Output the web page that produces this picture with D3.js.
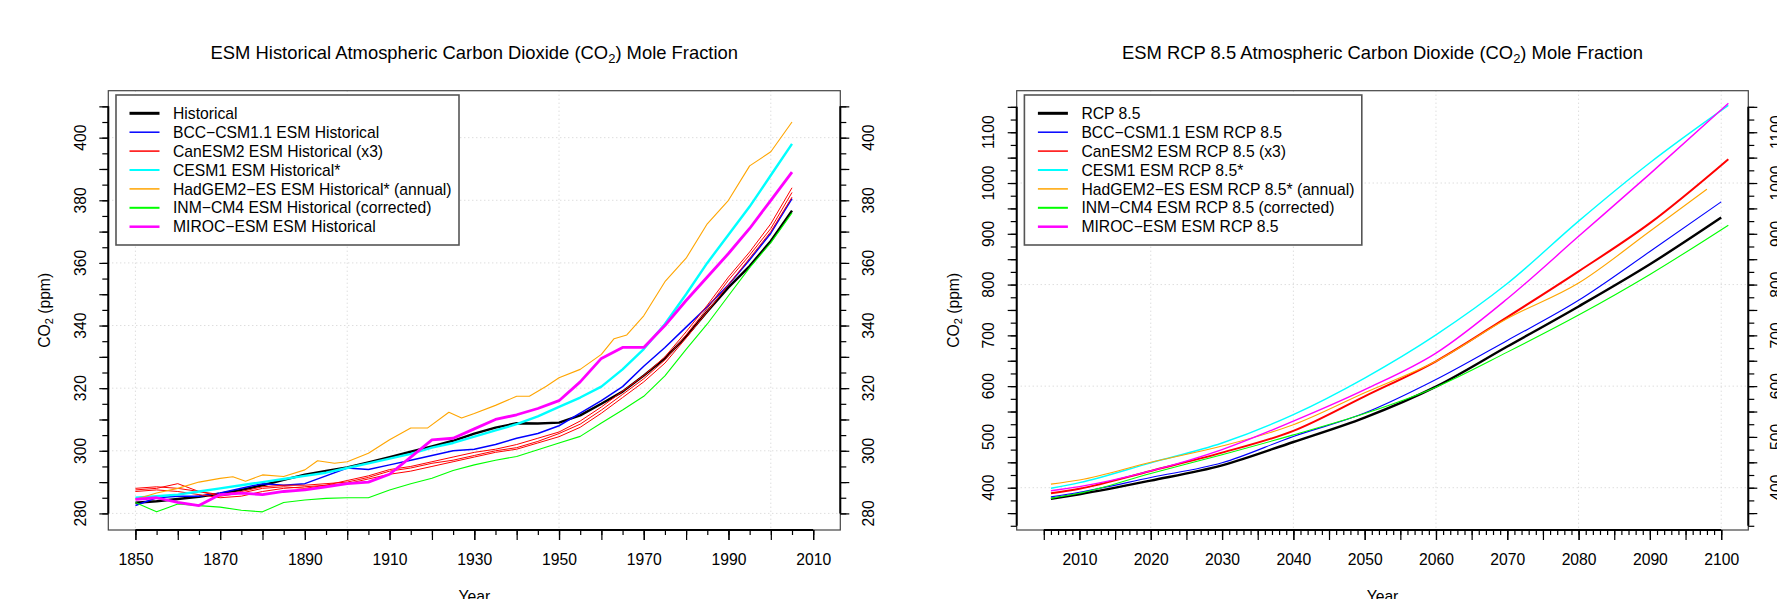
<!DOCTYPE html>
<html lang="en">
<head>
<meta charset="UTF-8">
<title>ESM CO2 Mole Fraction</title>
<script src="https://cdn.jsdelivr.net/npm/d3@7"></script>
<style>
    html, body {
        margin: 0;
        background: white;
    }
    svg {
        display: block;
        font-family: "Liberation Sans", Arial, sans-serif;
    }
</style>
</head>
<body>
<div id="vis"></div>
<script>

// ---------- historical panel (ppm) ----------
var histYears = [1850, 1855, 1860, 1865, 1870, 1875, 1880, 1885, 1890, 1895, 1900, 1905, 1910, 1915, 1920, 1925,
                 1930, 1935, 1940, 1945, 1950, 1955, 1960, 1965, 1970, 1975, 1980, 1985, 1990, 1995, 2000, 2005];
var histObs    = [283.4, 283.9, 284.6, 285.3, 286.3, 287.5, 289.0, 290.7, 292.4, 293.6, 294.7, 296.3, 298.0, 299.7, 301.4, 303.2,
                  305.5, 307.4, 308.8, 308.7, 309.0, 311.3, 315.0, 318.9, 324.0, 329.5, 336.5, 344.5, 352.2, 359.0, 367.0, 376.7];
var histBCC    = [282.5, 285.0, 285.5, 285.5, 286.5, 288.0, 289.5, 289.0, 289.5, 292.0, 294.5, 294.0, 295.5, 297.0, 298.5, 300.0,
                  300.5, 302.0, 304.0, 305.5, 308.0, 312.0, 316.0, 320.5, 327.0, 333.0, 339.5, 346.0, 353.0, 361.0, 369.5, 380.5];
var histCanA   = [288.0, 288.5, 288.0, 287.0, 286.0, 287.0, 288.5, 289.0, 289.0, 289.5, 290.0, 291.5, 293.5, 294.5, 296.0, 297.0,
                  298.5, 300.0, 301.0, 303.0, 305.5, 308.5, 313.0, 318.0, 323.0, 329.0, 337.0, 345.5, 354.5, 362.5, 371.0, 382.5];
var histCanB   = [287.5, 288.0, 289.5, 287.0, 285.5, 286.5, 288.0, 288.5, 288.0, 289.0, 290.5, 292.0, 294.0, 295.0, 296.5, 298.0,
                  299.5, 300.5, 302.0, 304.0, 306.0, 309.5, 314.0, 319.0, 324.0, 330.0, 338.0, 346.5, 355.5, 363.5, 372.5, 384.0];
var histCanC   = [287.0, 287.5, 287.0, 286.0, 285.0, 285.5, 287.0, 288.0, 288.5, 289.0, 289.5, 291.0, 292.5, 293.5, 295.0, 296.5,
                  298.0, 299.5, 300.5, 302.5, 304.5, 307.5, 312.0, 317.0, 322.0, 328.0, 336.0, 344.5, 353.0, 361.5, 370.0, 381.0];
var histCESM   = [285.0, 285.5, 286.0, 287.0, 288.0, 289.0, 290.0, 291.0, 292.0, 293.0, 294.5, 296.0, 297.5, 299.0, 301.0, 302.5,
                  304.5, 306.5, 308.5, 311.0, 314.0, 317.0, 320.5, 326.0, 332.5, 340.5, 350.0, 360.0, 369.0, 378.0, 388.0, 398.0];
var histINM    = [283.5, 280.5, 283.0, 282.5, 282.0, 281.0, 280.5, 283.5, 284.3, 284.8, 285.0, 285.0, 287.5, 289.5, 291.2, 293.7,
                  295.5, 297.0, 298.2, 300.3, 302.5, 304.6, 308.9, 313.0, 317.4, 323.9, 332.4, 340.5, 349.5, 358.5, 366.5, 376.0];
var histMIROC  = [284.5, 285.0, 283.5, 282.5, 286.0, 286.5, 286.0, 287.0, 287.5, 288.5, 289.5, 290.0, 292.5, 298.0, 303.5, 304.0,
                  307.0, 310.0, 311.5, 313.5, 316.0, 322.0, 329.5, 333.0, 333.0, 340.0, 348.0, 355.5, 363.0, 371.0, 380.0, 389.0];
// HadGEM2-ES is annual and bumpy, so it keeps its own years
var hadHistYears = [1850, 1855, 1860, 1865, 1870, 1873, 1876, 1880, 1885, 1890, 1893, 1897, 1900, 1905, 1910, 1915, 1919,
                    1924, 1927, 1930, 1935, 1940, 1943, 1947, 1950, 1955, 1960, 1963, 1966, 1970, 1975, 1980, 1985,
                    1990, 1995, 2000, 2005];
var hadHist      = [284.5, 286.5, 288.0, 290.0, 291.2, 291.7, 290.3, 292.3, 291.8, 293.9, 296.8, 296.0, 296.5, 299.2, 303.5, 307.3, 307.3,
                    312.3, 310.5, 311.9, 314.5, 317.4, 317.4, 320.6, 323.3, 326.0, 330.8, 335.8, 337.0, 343.1, 354.0, 361.5, 372.5,
                    380.0, 391.0, 395.5, 405.0];

// ---------- RCP 8.5 panel ----------
var rcpYears     = [2006, 2010, 2020, 2030, 2040, 2050, 2060, 2070, 2080, 2090, 2100];
var rcpYearsLong = [2006, 2010, 2020, 2030, 2040, 2050, 2060, 2070, 2080, 2090, 2101];
var hadRcpYears  = [2006, 2010, 2020, 2030, 2040, 2050, 2060, 2070, 2080, 2090, 2098];
var rcpObs   = [378, 387, 414, 444, 490, 538, 599, 678, 757, 840, 932];
var rcpBCC   = [382, 391, 420, 449, 501, 547, 613, 690, 769, 865, 963];
var rcpCan   = [389, 398, 433, 469, 512, 580, 649, 736, 826, 921, 1047];
var rcpCESM  = [399, 410, 449, 488, 544, 616, 701, 802, 925, 1040, 1153];
var rcpHad   = [407, 415, 450, 482, 524, 587, 649, 733, 803, 905, 988];
var rcpINM   = [379, 389, 428, 465, 504, 546, 598, 667, 740, 820, 917];
var rcpMIROC = [394, 402, 433, 475, 531, 593, 665, 772, 895, 1018, 1157];

var histLegend = ["Historical", "BCC\u2212CSM1.1 ESM Historical", "CanESM2 ESM Historical (x3)", "CESM1 ESM Historical*",
                  "HadGEM2\u2212ES ESM Historical* (annual)", "INM\u2212CM4 ESM Historical (corrected)", "MIROC\u2212ESM ESM Historical"];
var rcpLegend  = ["RCP 8.5", "BCC\u2212CSM1.1 ESM RCP 8.5", "CanESM2 ESM RCP 8.5 (x3)", "CESM1 ESM RCP 8.5*",
                  "HadGEM2\u2212ES ESM RCP 8.5* (annual)", "INM\u2212CM4 ESM RCP 8.5 (corrected)", "MIROC\u2212ESM ESM RCP 8.5"];

var colours      = ["black", "#0000ff", "#ff0000", "#00ffff", "#ffa500", "#00ff00", "#ff00ff"];
var legendWidths = [3, 1.5, 1.5, 2, 1.5, 2, 2.5];

var width = 1777, height = 599;
var fontSize = 15.7;

var svg = d3.select('#vis')
    .append('svg')
        .attr('width', width)
        .attr('height', height);

function zip(years, values) {
    return years.map(function(y, i) { return {year: y, value: values[i]}; });
}

function drawPanel(p) {
    var g = svg.append('g');

    var x = d3.scaleLinear().domain(p.xDomain).range([p.left, p.right]);
    var y = d3.scaleLinear().domain(p.yDomain).range([p.bottom, p.top]);

    // grid
    g.selectAll('.vgrid').data(p.xGrid).enter().append('line')
        .attr('x1', function(d){ return x(d); }).attr('x2', function(d){ return x(d); })
        .attr('y1', p.top).attr('y2', p.bottom)
        .attr('stroke', '#cfcfcf').attr('stroke-dasharray', '1,3');
    g.selectAll('.hgrid').data(p.yGrid).enter().append('line')
        .attr('y1', function(d){ return y(d); }).attr('y2', function(d){ return y(d); })
        .attr('x1', p.left).attr('x2', p.right)
        .attr('stroke', '#cfcfcf').attr('stroke-dasharray', '1,3');

    // series
    var line = d3.line()
        .x(function(d){ return x(d.year); })
        .y(function(d){ return y(d.value); })
        .curve(p.curve);

    p.series.forEach(function(s) {
        g.append('path')
            .datum(zip(s.years, s.values))
            .attr('fill', 'none')
            .attr('stroke', s.colour)
            .attr('stroke-width', s.width)
            .attr('stroke-linejoin', 'round')
            .attr('d', line);
    });

    // box
    g.append('rect')
        .attr('x', p.left).attr('y', p.top)
        .attr('width', p.right - p.left).attr('height', p.bottom - p.top)
        .attr('fill', 'none').attr('stroke', '#444').attr('stroke-width', 1.2);

    // x axis
    function xAxis(vals, size, labels) {
        var a = d3.axisBottom(x).tickValues(vals).tickSize(size).tickPadding(14)
            .tickFormat(labels ? d3.format('d') : '');
        var ax = g.append('g')
            .attr('transform', 'translate(0,' + p.bottom + ')')
            .call(a);
        ax.select('.domain').remove();
        ax.attr('font-size', fontSize).attr('font-family', null);
        ax.selectAll('line').attr('stroke-width', 1.2);
    }
    xAxis(p.xMinor, 5, false);
    xAxis(p.xMajor, 10, false);
    xAxis(p.xLabels, 10, true);
    g.append('line')
        .attr('x1', x(p.xMinor[0])).attr('x2', x(p.xMinor[p.xMinor.length - 1]))
        .attr('y1', p.bottom).attr('y2', p.bottom)
        .attr('stroke', 'black').attr('stroke-width', 2);

    // y axes on both sides
    [['left', p.left, -1], ['right', p.right, 1]].forEach(function(side) {
        var gen = side[0] === 'left' ? d3.axisLeft : d3.axisRight;
        [[p.yMinor, 6], [p.yMajor, 9]].forEach(function(t) {
            var ax = g.append('g')
                .attr('transform', 'translate(' + side[1] + ',0)')
                .call(gen(y).tickValues(t[0]).tickSize(t[1]).tickFormat(''));
            ax.select('.domain').remove();
            ax.selectAll('line').attr('stroke-width', 1.2);
        });
        g.append('line')
            .attr('x1', side[1]).attr('x2', side[1])
            .attr('y1', y(p.yMinor[0])).attr('y2', y(p.yMinor[p.yMinor.length - 1]))
            .attr('stroke', 'black').attr('stroke-width', 2);
        var lx = side[1] + side[2] * 28;
        g.selectAll('.ylab' + side[0]).data(p.yLabels).enter().append('text')
            .attr('transform', function(d){ return 'translate(' + lx + ',' + y(d) + ') rotate(-90)'; })
            .attr('text-anchor', 'middle')
            .attr('dy', '0.36em')
            .attr('font-size', fontSize)
            .text(function(d){ return d; });
    });

    // title
    var t = g.append('text')
        .attr('x', (p.left + p.right) / 2).attr('y', 58.5)
        .attr('text-anchor', 'middle')
        .attr('font-size', 18.4);
    t.append('tspan').text(p.title[0]);
    t.append('tspan').attr('font-size', 13).attr('dy', 4).text('2');
    t.append('tspan').attr('dy', -4).text(p.title[1]);

    // axis titles
    g.append('text')
        .attr('x', (p.left + p.right) / 2).attr('y', 602)
        .attr('text-anchor', 'middle')
        .attr('font-size', fontSize)
        .text('Year');
    var yt = g.append('text')
        .attr('transform', 'translate(' + (p.left - 58) + ',' + ((p.top + p.bottom) / 2) + ') rotate(-90)')
        .attr('text-anchor', 'middle')
        .attr('font-size', fontSize);
    yt.append('tspan').text('CO');
    yt.append('tspan').attr('font-size', 11).attr('dy', 3).text('2');
    yt.append('tspan').attr('dy', -3).text(' (ppm)');

    // legend
    var lg = g.append('g').attr('transform', 'translate(' + (p.left + 7.7) + ',95)');
    lg.append('rect')
        .attr('width', p.legendWidth).attr('height', 150)
        .attr('fill', 'white').attr('stroke', '#555').attr('stroke-width', 1.6);
    var rows = lg.selectAll('.row').data(p.legend).enter().append('g')
        .attr('transform', function(d, i){ return 'translate(0,' + (18.3 + i * 18.9) + ')'; });
    rows.append('line')
        .attr('x1', 13.5).attr('x2', 43.5)
        .attr('stroke', function(d, i){ return colours[i]; })
        .attr('stroke-width', function(d, i){ return legendWidths[i]; });
    rows.append('text')
        .attr('x', 57)
        .attr('dy', '0.36em')
        .attr('font-size', fontSize)
        .text(function(d){ return d; });
}

drawPanel({
    left: 108.3, right: 840.3, top: 90.7, bottom: 530,
    xDomain: [1843.6, 2016.4], yDomain: [274.7, 415.0],
    xMinor: d3.range(1850, 2011, 5), xMajor: d3.range(1850, 2011, 10), xLabels: d3.range(1850, 2011, 20),
    yMinor: d3.range(280, 411, 5), yMajor: d3.range(280, 411, 10), yLabels: d3.range(280, 401, 20),
    xGrid: [1850, 1900, 1950, 2000], yGrid: d3.range(280, 401, 20),
    curve: d3.curveLinear,
    title: ['ESM Historical Atmospheric Carbon Dioxide (CO', ') Mole Fraction'],
    legend: histLegend, legendWidth: 343,
    series: [
        {years: histYears, values: histObs, colour: colours[0], width: 2.4},
        {years: histYears, values: histBCC, colour: colours[1], width: 1.5},
        {years: histYears, values: histCanA, colour: colours[2], width: 1},
        {years: histYears, values: histCanB, colour: colours[2], width: 1},
        {years: histYears, values: histCanC, colour: colours[2], width: 1},
        {years: histYears, values: histCESM, colour: colours[3], width: 2.4},
        {years: hadHistYears, values: hadHist, colour: colours[4], width: 1.1},
        {years: histYears, values: histINM, colour: colours[5], width: 1.1},
        {years: histYears, values: histMIROC, colour: colours[6], width: 2.8}
    ]
});

drawPanel({
    left: 1016.7, right: 1748.3, top: 90.7, bottom: 530,
    xDomain: [2001.2, 2103.8], yDomain: [316.7, 1181.8],
    xMinor: d3.range(2005, 2101, 1), xMajor: d3.range(2005, 2101, 5), xLabels: d3.range(2010, 2101, 10),
    yMinor: d3.range(325, 1151, 25), yMajor: d3.range(350, 1151, 50), yLabels: d3.range(400, 1101, 100),
    xGrid: d3.range(2020, 2101, 20), yGrid: [400, 600, 800, 1000],
    curve: d3.curveMonotoneX,
    title: ['ESM RCP 8.5 Atmospheric Carbon Dioxide (CO', ') Mole Fraction'],
    legend: rcpLegend, legendWidth: 337.4,
    series: [
        {years: rcpYears, values: rcpObs, colour: colours[0], width: 2.4},
        {years: rcpYears, values: rcpBCC, colour: colours[1], width: 1.1},
        {years: rcpYearsLong, values: rcpCan, colour: colours[2], width: 2},
        {years: rcpYearsLong, values: rcpCESM, colour: colours[3], width: 1.4},
        {years: hadRcpYears, values: rcpHad, colour: colours[4], width: 1.1},
        {years: rcpYearsLong, values: rcpINM, colour: colours[5], width: 1.1},
        {years: rcpYearsLong, values: rcpMIROC, colour: colours[6], width: 1.4}
    ]
});

</script>
</body>
</html>
